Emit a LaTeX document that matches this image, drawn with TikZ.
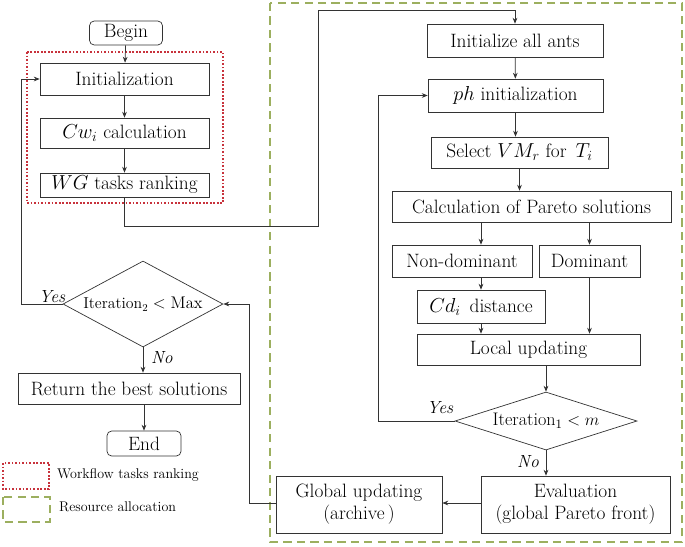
\documentclass[tikz,border=0pt]{standalone}
\usepackage{amsmath}
\usetikzlibrary{shapes.geometric,arrows.meta}
\definecolor{rankred}{HTML}{C8323C}
\definecolor{allocgreen}{HTML}{9CAF5F}
\definecolor{linegray}{HTML}{333333}
\tikzset{
  box/.style={draw=linegray, line width=0.6pt, inner sep=0pt, align=center,
    font=\fontsize{16.5}{19}\selectfont},
  term/.style={box, rounded corners=4pt},
  decide/.style={diamond, draw=linegray, line width=0.6pt, inner sep=0pt},
  flow/.style={->, draw=linegray, line width=0.6pt},
  answer/.style={font=\fontsize{15}{17}\selectfont\itshape},
  legendtext/.style={anchor=west, font=\fontsize{12}{14}\selectfont},
  rankframe/.style={draw=rankred, line width=1.5pt, dash pattern=on 1.5pt off 1.5pt},
  allocframe/.style={draw=allocgreen, line width=1.2pt, dash pattern=on 7pt off 4.5pt},
}

\begin{document}
\begin{tikzpicture}[>={Stealth[length=5pt,width=4pt]}, x=0.03cm, y=-0.03cm]
  \useasboundingbox (0,0) rectangle (685,546);
  % group frames
  \draw[rankframe] (27,52) rectangle (223,203);
  \draw[allocframe] (270,3) rectangle (682,542);

  % ranking part
  \node[term, minimum width=2.19cm, minimum height=0.72cm] (begin) at (126,33) {Begin};
  \node[box, minimum width=5.07cm, minimum height=0.96cm] (init) at (124.5,79) {Initialization};
  \node[box, minimum width=5.07cm, minimum height=0.9cm] (cw) at (124.5,133) {$Cw_i$ calculation};
  \node[box, minimum width=5.07cm, minimum height=0.72cm] (wg) at (124.5,185) {$WG$ tasks ranking};
  \node[decide, minimum width=4.8cm, minimum height=2.58cm, aspect=1.86,
    font=\fontsize{13.5}{15}\selectfont] (it2) at (143,304) {Iteration$_2<\mathrm{Max}$};
  \node[box, minimum width=6.66cm, minimum height=0.93cm] (ret) at (129,388.5) {Return the best solutions};
  \node[term, minimum width=2.22cm, minimum height=0.75cm] (fin) at (144,443.5) {End};

  % allocation part
  \node[box, minimum width=5.28cm, minimum height=0.99cm] (ants) at (515,40.5) {Initialize all ants};
  \node[box, minimum width=5.25cm, minimum height=0.99cm] (ph) at (515.5,95.5) {$ph$ initialization};
  \node[box, minimum width=5.31cm, minimum height=0.93cm] (select) at (519.5,152.5) {Select $VM_r$ for\, $T_i$};
  \node[box, minimum width=8.37cm, minimum height=0.93cm] (calc) at (531.5,206.5) {Calculation of Pareto solutions};
  \node[box, minimum width=4.2cm, minimum height=0.96cm] (nondom) at (462,261) {Non-dominant};
  \node[box, minimum width=3.03cm, minimum height=0.96cm] (dom) at (589.5,261) {Dominant};
  \node[box, minimum width=3.84cm, minimum height=0.99cm] (cd) at (481,306.5) {$Cd_i$\, distance};
  \node[box, minimum width=6.69cm, minimum height=0.93cm] (local) at (528.5,349.5) {Local updating};
  \node[decide, minimum width=5.46cm, minimum height=1.74cm, aspect=3.14,
    font=\fontsize{15.5}{17}\selectfont] (it1) at (546,421) {Iteration$_1<m$};
  \node[box, minimum width=5.67cm, minimum height=1.71cm] (eval) at (575.5,504.5) {Evaluation\\(global Pareto front)};
  \node[box, minimum width=4.98cm, minimum height=1.71cm] (glob) at (359,504.5) {Global updating\\(archive\,)};

  % answers
  \node[answer] (yes2) at (52,297) {Yes};
  \node[answer] (no2) at (162,358) {No};
  \node[answer] (yes1) at (440,408) {Yes};
  \node[answer] (no1) at (528,462) {No};

  % legend
  \draw[rankframe] (3,463) rectangle (49,489);
  \draw[allocframe] (3,497) rectangle (50,522);
  \node[legendtext] (legrank) at (53,475) {Workflow tasks ranking};
  \node[legendtext] (legalloc) at (55,507) {Resource allocation};

  % turning points
  \coordinate (r1) at (318,226);
  \coordinate (r2) at (318,10);
  \coordinate (y1) at (378,421);
  \coordinate (g1) at (249,503);
  \coordinate (y2) at (21,304);

  % connectors
  \draw[flow] (begin) -- (init);
  \draw[flow] (init) -- (cw);
  \draw[flow] (cw) -- (wg);
  \draw[flow] (wg.south) |- (r1) -- (r2) -| (ants.north);
  \draw[flow] (ants) -- (ph);
  \draw[flow] (ph.south) -- (ph.south |- select.north);
  \draw[flow] (select.south) -- (select.south |- calc.north);
  \draw[flow] (calc.south -| cd.north) -- (nondom.north -| cd.north);
  \draw[flow] (calc.south -| dom.north) -- (dom.north);
  \draw[flow] (nondom.south -| cd.north) -- (cd.north);
  \draw[flow] (cd.south) -- (cd.south |- local.north);
  \draw[flow] (dom.south) -- (dom.south |- local.north);
  \draw[flow] (local.south -| it1.north) -- (it1.north);
  \draw[flow] (it1.west) -- (y1) |- (ph.west);
  \draw[flow] (it1.south) -- (it1.south |- eval.north);
  \draw[flow] (eval.west |- g1) -- (glob.east |- g1);
  \draw[flow] (glob.west |- g1) -- (g1) |- (it2.east);
  \draw[flow] (it2.west) -- (y2) |- (init.west);
  \draw[flow] (it2.south) -- (it2.south |- ret.north);
  \draw[flow] (ret.south -| fin.north) -- (fin.north);
\end{tikzpicture}
\end{document}
